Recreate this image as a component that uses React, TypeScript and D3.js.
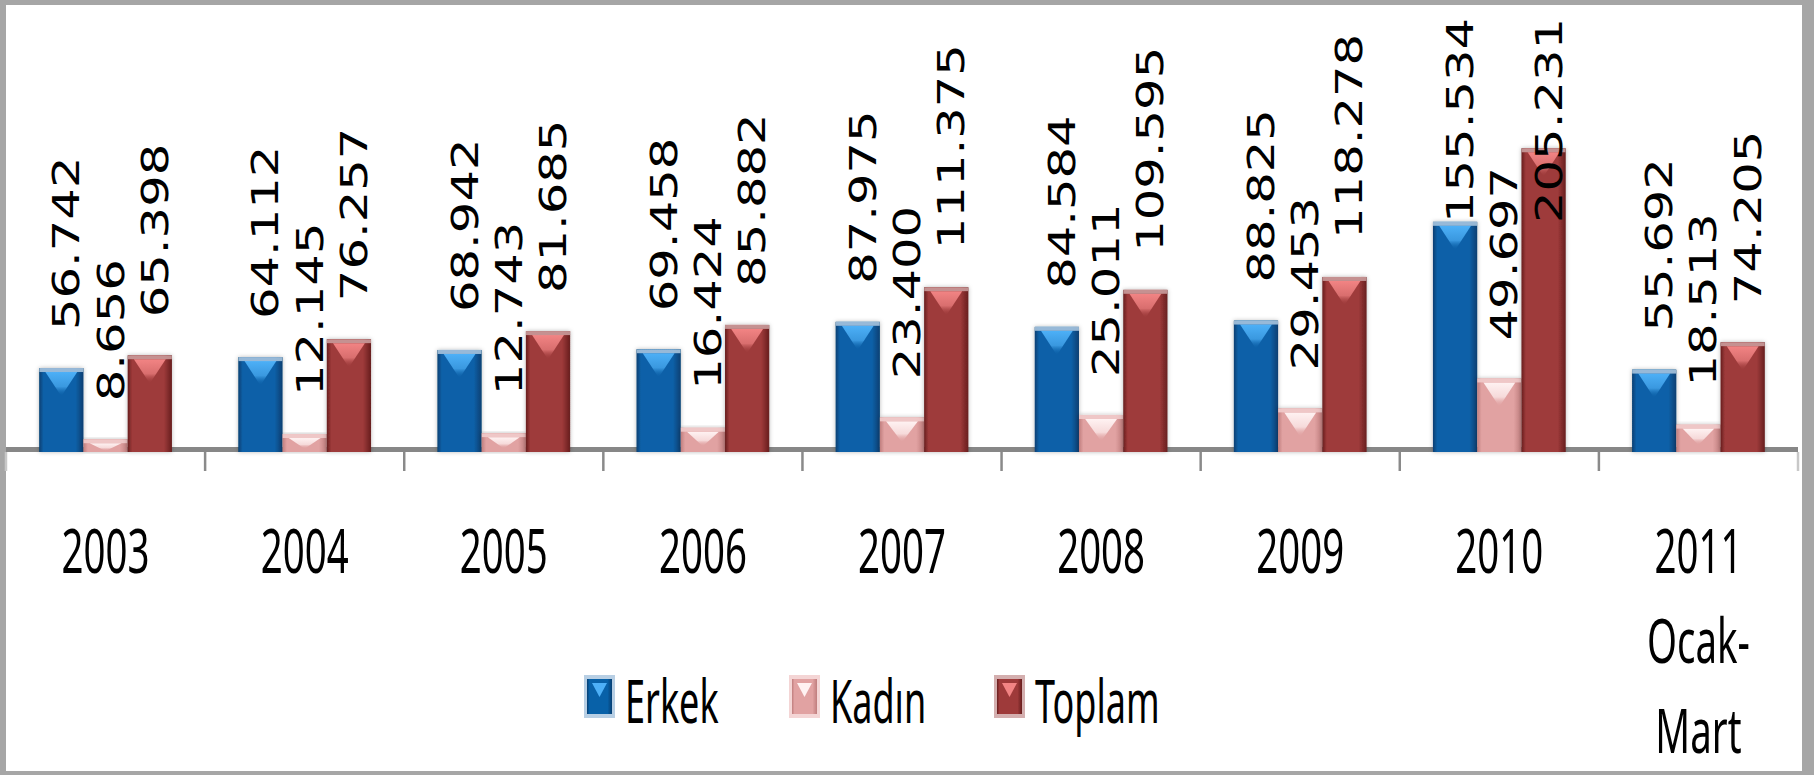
import React from "react";
import * as d3 from "d3";

const categories = ["2003", "2004", "2005", "2006", "2007", "2008", "2009", "2010", "2011 Ocak-Mart"];
const categoryLines: string[][] = [
  ["2003"], ["2004"], ["2005"], ["2006"], ["2007"], ["2008"], ["2009"], ["2010"],
  ["2011", "Ocak-", "Mart"],
];
const seriesNames = ["Erkek", "Kadın", "Toplam"];
const erkek = [56742, 64112, 68942, 69458, 87975, 84584, 88825, 155534, 55692];
const kadin = [8656, 12145, 12743, 16424, 23400, 25011, 29453, 49697, 18513];
const toplam = [65398, 76257, 81685, 85882, 111375, 109595, 118278, 205231, 74205];
const seriesValues = [erkek, kadin, toplam];

const W = 1814;
const H = 775;
const base = 452;

// body / edge / highlight / cap colours per series
const palette = [
  { body: "#0861a8", edge: "#073f72", hi: "#4db0f7", cap: "#a6c3dd" },
  { body: "#e1a2a2", edge: "#c07e7e", hi: "#fff2f2", cap: "#f1cbcb" },
  { body: "#9e3a3a", edge: "#671e1e", hi: "#f28484", cap: "#c99b9b" },
];

const fmt = d3.formatLocale({ decimal: ",", thousands: ".", grouping: [3], currency: ["", ""] }).format(",d");

const x0 = d3.scaleBand<string>().domain(categories).range([6, 1798]).padding(0);
const x1 = d3.scaleBand<string>().domain(seriesNames).range([0, x0.bandwidth()]).paddingInner(0).paddingOuter(0.75);
const y = d3.scaleLinear().domain([0, 300000]).range([base, 8]);

const labelSize = 37;
const labelStretch = 1.34;
const labelLen = (s: string) =>
  s.split("").reduce((a, c) => a + (c === "." ? 0.318 : 0.636), 0) * labelSize * labelStretch;

function Bar({ x, top, w, s, id }: { x: number; top: number; w: number; s: number; id: string }) {
  const h = base - top;
  const c = palette[s];
  const triH = Math.min(w * 0.55, h * 0.6);
  return (
    <g>
      <clipPath id={id}>
        <rect x={x} y={top} width={w} height={h} />
      </clipPath>
      <rect x={x} y={top} width={w} height={h} fill={`url(#body${s})`} filter="url(#shadow)" />
      <g clipPath={`url(#${id})`}>
        <polygon
          points={`${x + w * 0.14},${top + 4} ${x + w * 0.86},${top + 4} ${x + w * 0.5},${top + 4 + triH}`}
          fill={`url(#hi${s})`}
        />
        <rect x={x} y={top} width={w} height={Math.min(4, h)} fill={c.cap} opacity={0.9} />
      </g>
    </g>
  );
}

export default function App() {
  const bw = x1.bandwidth();
  const boundaries = d3.range(categories.length + 1).map((i) => 6 + i * x0.step());
  return (
    <svg width={W} height={H} style={{ position: "absolute", left: 0, top: 0, background: "#fff" }}>
      <defs>
        <filter id="shadow" x="-30%" y="-10%" width="160%" height="120%">
          <feDropShadow dx="0" dy="0" stdDeviation="2.2" floodColor="#000" floodOpacity="0.28" />
        </filter>
        {palette.map((c, i) => (
          <React.Fragment key={i}>
            <linearGradient id={`body${i}`} x1="0" x2="1" y1="0" y2="0">
              <stop offset="0%" stopColor={c.edge} />
              <stop offset="10%" stopColor={c.body} />
              <stop offset="82%" stopColor={c.body} />
              <stop offset="100%" stopColor={c.edge} />
            </linearGradient>
            <linearGradient id={`hi${i}`} x1="0" x2="0" y1="0" y2="1">
              <stop offset="0%" stopColor={c.hi} />
              <stop offset="60%" stopColor={c.hi} stopOpacity={0.7} />
              <stop offset="100%" stopColor={c.body} stopOpacity={0} />
            </linearGradient>
          </React.Fragment>
        ))}
      </defs>

      <rect x={0} y={0} width={W} height={H} fill="#a6a6a6" />
      <rect x={6} y={5} width={W - 18} height={H - 9} fill="#fff" />

      <line x1={6} x2={1798} y1={449.5} y2={449.5} stroke="#878787" strokeWidth={5} />
      {boundaries.map((bx, i) => (
        <line key={i} x1={bx} x2={bx} y1={452} y2={471} stroke={i === 0 || i === categories.length ? "#c8c8c8" : "#8a8a8a"} strokeWidth={2.5} />
      ))}

      {categories.map((cat, ci) =>
        seriesNames.map((sn, si) => {
          const v = seriesValues[si][ci];
          const bx = (x0(cat) ?? 0) + (x1(sn) ?? 0);
          return <Bar key={`${ci}-${si}`} x={bx} top={y(v)} w={bw} s={si} id={`clip${ci}-${si}`} />;
        })
      )}

      {categories.map((cat, ci) =>
        seriesNames.map((sn, si) => {
          const v = seriesValues[si][ci];
          const txt = fmt(v);
          const cx = (x0(cat) ?? 0) + (x1(sn) ?? 0) + bw / 2;
          let ay = y(v) - 38;
          const len = labelLen(txt);
          if (ay - len < 18) ay = 18 + len;
          return (
            <text
              key={`l${ci}-${si}`}
              transform={`translate(${cx + 18},${ay}) rotate(-90) scale(${labelStretch},1)`}
              fontFamily="DejaVu Sans"
              fontSize={labelSize}
              fill="#000"
            >
              {txt}
            </text>
          );
        })
      )}

      {categories.map((cat, ci) => {
        const cx = (x0(cat) ?? 0) + x0.bandwidth() / 2;
        return categoryLines[ci].map((ln, li) => (
          <text
            key={`c${ci}-${li}`}
            transform={`translate(${cx},${573 + li * 90}) scale(0.62,1)`}
            textAnchor="middle"
            fontFamily="Noto Sans"
            fontSize={62}
            fill="#000"
          >
            {ln}
          </text>
        ));
      })}

      {seriesNames.map((sn, si) => {
        const lx = [586, 791, 996][si];
        const c = palette[si];
        return (
          <g key={sn}>
            <rect x={lx - 2} y={675} width={31} height={43} fill={c.cap} opacity={0.8} />
            <rect x={lx + 1} y={679} width={25} height={35} fill={`url(#body${si})`} />
            <polygon points={`${lx + 6},${683} ${lx + 21},${683} ${lx + 13.5},${697}`} fill={c.hi} />
            <text
              transform={`translate(${lx + 39},723) scale(0.6,1)`}
              fontFamily="Noto Sans"
              fontSize={60}
              fill="#000"
            >
              {sn}
            </text>
          </g>
        );
      })}
    </svg>
  );
}
